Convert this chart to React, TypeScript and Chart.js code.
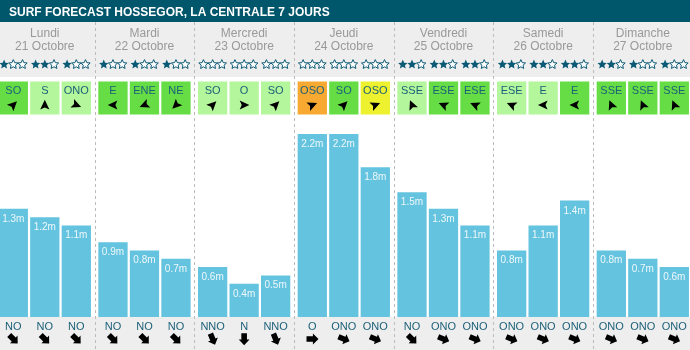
import React, { useEffect, useRef } from "react";
import { Chart, registerables } from "chart.js";

Chart.register(...registerables);

const TITLE = "SURF FORECAST HOSSEGOR, LA CENTRALE 7 JOURS";
const dayNames = ["Lundi", "Mardi", "Mercredi", "Jeudi", "Vendredi", "Samedi", "Dimanche"];
const dayDates = ["21 Octobre", "22 Octobre", "23 Octobre", "24 Octobre", "25 Octobre", "26 Octobre", "27 Octobre"];
const slotNames = ["Matin", "Midi", "Soir"];
const waveHeights = [1.3, 1.2, 1.1, 0.9, 0.8, 0.7, 0.6, 0.4, 0.5, 2.2, 2.2, 1.8, 1.5, 1.3, 1.1, 0.8, 1.1, 1.4, 0.8, 0.7, 0.6];
const swellDirs = ["NO", "NO", "NO", "NO", "NO", "NO", "NNO", "N", "NNO", "O", "ONO", "ONO", "NO", "ONO", "ONO", "ONO", "ONO", "ONO", "ONO", "ONO", "ONO"];
const windDirs = ["SO", "S", "ONO", "E", "ENE", "NE", "SO", "O", "SO", "OSO", "SO", "OSO", "SSE", "ESE", "ESE", "ESE", "E", "E", "SSE", "SSE", "SSE"];
const windLevels = [1, 0, 0, 1, 1, 1, 0, 0, 0, 2, 1, 3, 0, 1, 1, 0, 0, 1, 1, 1, 1];
const starRatings = [1, 2, 1, 1, 1, 1, 0, 0, 0, 0, 0, 0, 2, 2, 2, 2, 2, 2, 2, 1, 1];

const DIR_DEG: Record<string, number> = {
  N: 0, NNE: 22.5, NE: 45, ENE: 67.5, E: 90, ESE: 112.5, SE: 135, SSE: 157.5,
  S: 180, SSO: 202.5, SO: 225, OSO: 247.5, O: 270, ONO: 292.5, NO: 315, NNO: 337.5,
};

const FONT = '"Liberation Sans", Arial, Helvetica, sans-serif';
const WIND_COLORS = ["#b3f69b", "#66dd45", "#f7a932", "#eef22e"];
const TEAL = "#0b5a75";
const TEXT_TEAL = "#1d6179";
const BAR_COLOR = "#64c3de";

function drawStar(ctx: CanvasRenderingContext2D, cx: number, cy: number, R: number, filled: boolean) {
  const r = R * 0.47;
  ctx.beginPath();
  for (let k = 0; k < 10; k++) {
    const rad = k % 2 === 0 ? R : r;
    const a = -Math.PI / 2 + (k * Math.PI) / 5;
    const px = cx + rad * Math.cos(a);
    const py = cy + rad * Math.sin(a);
    if (k === 0) ctx.moveTo(px, py);
    else ctx.lineTo(px, py);
  }
  ctx.closePath();
  if (filled) {
    ctx.fillStyle = TEAL;
    ctx.fill();
  } else {
    ctx.fillStyle = "#ffffff";
    ctx.fill();
    ctx.strokeStyle = TEAL;
    ctx.lineWidth = 1;
    ctx.stroke();
  }
}

function drawWindArrow(ctx: CanvasRenderingContext2D, cx: number, cy: number, dir: string) {
  const heading = ((DIR_DEG[dir] ?? 0) + 180) * Math.PI / 180;
  ctx.save();
  ctx.translate(cx, cy);
  ctx.rotate(heading);
  ctx.beginPath();
  ctx.moveTo(0, -5.2);
  ctx.lineTo(4.6, 4.4);
  ctx.lineTo(0, 2.4);
  ctx.lineTo(-4.6, 4.4);
  ctx.closePath();
  ctx.fillStyle = "#000000";
  ctx.fill();
  ctx.restore();
}

function drawSwellArrow(ctx: CanvasRenderingContext2D, cx: number, cy: number, dir: string) {
  const heading = ((DIR_DEG[dir] ?? 0) + 180) * Math.PI / 180;
  ctx.save();
  ctx.translate(cx, cy);
  ctx.rotate(heading);
  ctx.beginPath();
  ctx.moveTo(0, -6.2);
  ctx.lineTo(5.4, -0.6);
  ctx.lineTo(2.8, -0.6);
  ctx.lineTo(2.8, 5.8);
  ctx.lineTo(-2.8, 5.8);
  ctx.lineTo(-2.8, -0.6);
  ctx.lineTo(-5.4, -0.6);
  ctx.closePath();
  ctx.fillStyle = "#000000";
  ctx.fill();
  ctx.restore();
}

const surfPlugin = {
  id: "surfDecor",
  beforeDatasetsDraw(chart: any) {
    const ctx: CanvasRenderingContext2D = chart.ctx;
    const W = chart.width;
    const H = chart.height;
    const xs = chart.scales.x;
    const bottom = chart.chartArea.bottom;
    ctx.save();
    ctx.fillStyle = "#ffffff";
    ctx.fillRect(0, 0, W, H);
    ctx.fillStyle = "#eeeeee";
    ctx.fillRect(0, 22, W, 55);
    ctx.fillRect(0, bottom, W, H - bottom);
    ctx.fillStyle = "#00566b";
    ctx.fillRect(0, 0, W, 22);

    ctx.fillStyle = "#ffffff";
    ctx.font = `bold 12px ${FONT}`;
    ctx.textAlign = "left";
    ctx.textBaseline = "alphabetic";
    ctx.fillText(TITLE, 9, 15.5);

    // day separators
    ctx.strokeStyle = "#bbbbbb";
    ctx.lineWidth = 1;
    ctx.setLineDash([3, 3]);
    for (let d = 0; d < dayNames.length - 1; d++) {
      const x = Math.round(xs.getPixelForValue(d + 0.5)) + 0.5;
      ctx.beginPath();
      ctx.moveTo(x, 22);
      ctx.lineTo(x, H);
      ctx.stroke();
    }
    ctx.setLineDash([]);

    // day headers
    ctx.fillStyle = "#999999";
    ctx.font = `12px ${FONT}`;
    ctx.textAlign = "center";
    for (let d = 0; d < dayNames.length; d++) {
      const x = xs.getPixelForValue(d);
      ctx.fillText(dayNames[d], x, 37);
      ctx.fillText(dayDates[d], x, 50);
    }

    // stars + wind boxes
    for (let s = 0; s < slotNames.length; s++) {
      const meta = chart.getDatasetMeta(s);
      meta.data.forEach((bar: any, d: number) => {
        const i = d * 3 + s;
        const x = bar.x;
        const w = bar.width;
        for (let k = 0; k < 3; k++) {
          drawStar(ctx, x + (k - 1) * 9.2, 64.5, 4.9, k < starRatings[i]);
        }
        ctx.fillStyle = WIND_COLORS[windLevels[i]];
        ctx.fillRect(x - w / 2, 81.5, w, 33);
        ctx.fillStyle = TEXT_TEAL;
        ctx.font = `11px ${FONT}`;
        ctx.textAlign = "center";
        ctx.fillText(windDirs[i], x, 94);
        drawWindArrow(ctx, x, 105, windDirs[i]);
      });
    }
    ctx.restore();
  },
  afterDatasetsDraw(chart: any) {
    const ctx: CanvasRenderingContext2D = chart.ctx;
    const bottom = chart.chartArea.bottom;
    ctx.save();
    for (let s = 0; s < slotNames.length; s++) {
      const meta = chart.getDatasetMeta(s);
      meta.data.forEach((bar: any, d: number) => {
        const i = d * 3 + s;
        const x = bar.x;
        ctx.textAlign = "center";
        ctx.textBaseline = "alphabetic";
        ctx.fillStyle = "#eef8fb";
        ctx.font = `10px ${FONT}`;
        ctx.fillText(`${waveHeights[i].toFixed(1)}m`, x, bar.y + 13);
        ctx.fillStyle = TEXT_TEAL;
        ctx.font = `11px ${FONT}`;
        ctx.fillText(swellDirs[i], x, bottom + 12.5);
        drawSwellArrow(ctx, x, bottom + 22, swellDirs[i]);
      });
    }
    ctx.restore();
  },
};

export default function App() {
  const canvasRef = useRef<HTMLCanvasElement | null>(null);

  useEffect(() => {
    const canvas = canvasRef.current;
    if (!canvas) return;
    const datasets = slotNames.map((name, s) => ({
      label: name,
      data: dayNames.map((_, d) => ({ x: d, y: waveHeights[d * 3 + s] })),
      backgroundColor: BAR_COLOR,
      borderWidth: 0,
      categoryPercentage: 0.948,
      barPercentage: 0.93,
    }));
    const chart = new Chart(canvas, {
      type: "bar",
      data: { datasets },
      options: {
        animation: false,
        responsive: false,
        events: [],
        layout: { padding: { top: 22, bottom: 33, left: 0, right: 0 } },
        scales: {
          x: {
            type: "linear",
            offset: false,
            min: -0.4495,
            max: 6.4734,
            display: false,
            grid: { offset: false },
            ticks: { stepSize: 1, includeBounds: false },
          },
          y: {
            type: "linear",
            min: 0,
            max: 3.546,
            display: false,
          },
        },
        plugins: {
          legend: { display: false },
          tooltip: { enabled: false },
          title: { display: false },
        },
      },
      plugins: [surfPlugin],
    } as any);
    return () => chart.destroy();
  }, []);

  return (
    <div style={{ position: "fixed", left: 0, top: 0, width: 690, height: 350, background: "#fff" }}>
      <canvas ref={canvasRef} width={690} height={350} style={{ display: "block", width: 690, height: 350 }} />
    </div>
  );
}
